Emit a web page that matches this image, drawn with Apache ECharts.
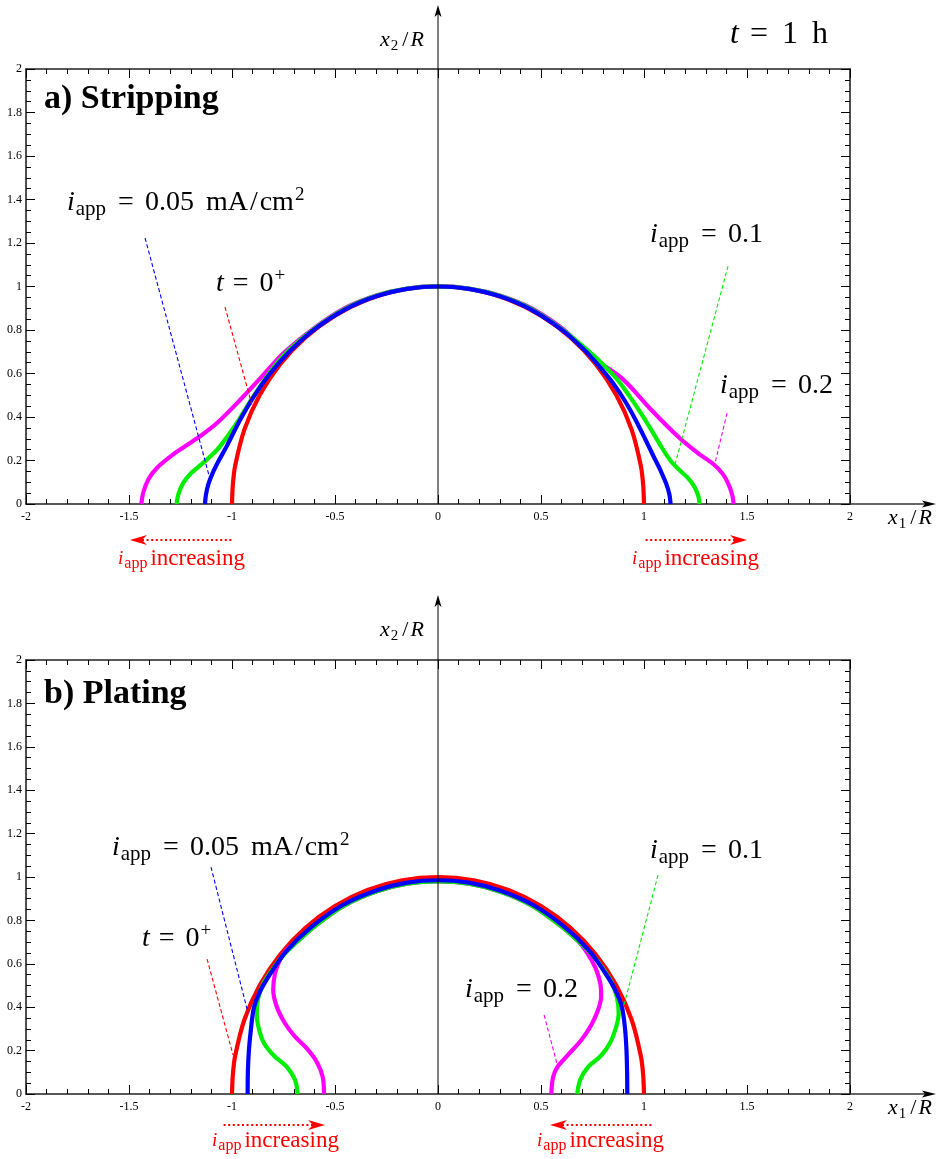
<!DOCTYPE html>
<html>
<head>
<meta charset="utf-8">
<script src="https://cdn.jsdelivr.net/npm/echarts@6/dist/echarts.min.js"></script>
<style>
html,body{margin:0;padding:0;background:#fff;}
#chart{width:944px;height:1159px;}
</style>
</head>
<body>
<div id="chart"></div>
<script>
// ---------- axis ranges / ticks ----------
const xMin = -2, xMax = 2, xInterval = 0.5;
const yMin = 0, yMax = 2, yInterval = 0.2;
const xTickLabels = ['-2','-1.5','-1','-0.5','0','0.5','1','1.5','2'];
const yTickLabels = ['0','0.2','0.4','0.6','0.8','1','1.2','1.4','1.6','1.8','2'];

// ---------- a) Stripping ----------
const stripRed = [[-1,0],[-0.996,0.087],[-0.985,0.174],[-0.94,0.342],[-0.866,0.5],[-0.766,0.643],[-0.643,0.766],[-0.5,0.866],[-0.342,0.94],[-0.174,0.985],[0,1],[0.174,0.985],[0.342,0.94],[0.5,0.866],[0.643,0.766],[0.766,0.643],[0.866,0.5],[0.94,0.342],[0.985,0.174],[0.996,0.087],[1,0]];
const stripBlue = [[-1.131,0],[-1.127,0.04],[-1.115,0.09],[-1.095,0.14],[-1.062,0.203],[-1.026,0.265],[-0.961,0.386],[-0.895,0.493],[-0.815,0.6],[-0.72,0.702],[-0.6,0.803],[-0.45,0.895],[-0.3,0.955],[-0.15,0.989],[0,1],[0.15,0.989],[0.3,0.955],[0.45,0.895],[0.6,0.802],[0.7,0.718],[0.78,0.636],[0.85,0.555],[0.91,0.47],[0.96,0.385],[1.005,0.3],[1.045,0.222],[1.08,0.155],[1.107,0.095],[1.123,0.045],[1.129,0]];
const stripGreen = [[-1.269,0],[-1.26,0.045],[-1.238,0.095],[-1.2,0.14],[-1.145,0.185],[-1.098,0.225],[-1.058,0.265],[-0.98,0.368],[-0.897,0.493],[-0.816,0.606],[-0.73,0.702],[-0.6,0.806],[-0.45,0.898],[-0.3,0.957],[-0.15,0.99],[0,1.001],[0.15,0.99],[0.3,0.957],[0.45,0.898],[0.6,0.805],[0.7,0.728],[0.79,0.652],[0.87,0.573],[0.93,0.495],[0.985,0.418],[1.036,0.34],[1.085,0.262],[1.128,0.2],[1.17,0.158],[1.213,0.12],[1.246,0.077],[1.264,0.035],[1.27,0]];
const stripMagenta = [[-1.44,0],[-1.43,0.055],[-1.405,0.115],[-1.36,0.17],[-1.29,0.225],[-1.22,0.27],[-1.15,0.315],[-1.074,0.371],[-0.961,0.478],[-0.848,0.593],[-0.751,0.693],[-0.6,0.81],[-0.45,0.902],[-0.3,0.959],[-0.15,0.991],[0,1.002],[0.15,0.991],[0.3,0.959],[0.45,0.902],[0.6,0.81],[0.69,0.732],[0.78,0.655],[0.9,0.572],[1.036,0.432],[1.165,0.31],[1.26,0.235],[1.335,0.185],[1.385,0.135],[1.415,0.08],[1.43,0.035],[1.435,0]];
const stripLeadBlue = [[-1.422,1.223],[-1.107,0.115]];
const stripLeadRed = [[-1.034,0.906],[-0.903,0.455]];
const stripLeadGreen = [[1.408,1.094],[1.15,0.179]];
const stripLeadMagenta = [[1.403,0.418],[1.345,0.189]];

// ---------- b) Plating ----------
const plateRed = [[-1,0],[-0.996,0.087],[-0.985,0.174],[-0.94,0.342],[-0.866,0.5],[-0.766,0.643],[-0.643,0.766],[-0.5,0.866],[-0.342,0.94],[-0.174,0.985],[0,1],[0.174,0.985],[0.342,0.94],[0.5,0.866],[0.643,0.766],[0.766,0.643],[0.866,0.5],[0.94,0.342],[0.985,0.174],[0.996,0.087],[1,0]];
const plateBlue = [[-0.924,0],[-0.923,0.1],[-0.918,0.2],[-0.908,0.3],[-0.893,0.4],[-0.86,0.48],[-0.81,0.56],[-0.735,0.66],[-0.614,0.77],[-0.46,0.872],[-0.3,0.938],[-0.15,0.974],[0,0.985],[0.15,0.974],[0.3,0.938],[0.46,0.872],[0.614,0.77],[0.735,0.66],[0.81,0.56],[0.86,0.48],[0.893,0.4],[0.908,0.3],[0.915,0.2],[0.918,0.1],[0.919,0]];
const plateGreen = [[-0.681,0],[-0.694,0.065],[-0.735,0.126],[-0.795,0.175],[-0.845,0.235],[-0.872,0.31],[-0.88,0.37],[-0.873,0.44],[-0.848,0.51],[-0.8,0.58],[-0.745,0.645],[-0.68,0.705],[-0.6,0.772],[-0.46,0.866],[-0.3,0.933],[-0.15,0.969],[0,0.98],[0.15,0.969],[0.3,0.933],[0.46,0.866],[0.6,0.772],[0.68,0.705],[0.745,0.645],[0.8,0.58],[0.845,0.51],[0.87,0.44],[0.877,0.37],[0.865,0.31],[0.835,0.235],[0.79,0.175],[0.73,0.126],[0.69,0.065],[0.676,0]];
const plateMagenta = [[-0.553,0],[-0.56,0.08],[-0.589,0.149],[-0.637,0.21],[-0.694,0.264],[-0.743,0.326],[-0.783,0.403],[-0.8,0.48],[-0.791,0.556],[-0.767,0.618],[-0.735,0.664],[-0.68,0.707],[-0.6,0.772],[-0.46,0.866],[-0.3,0.933],[-0.15,0.969],[0,0.98],[0.15,0.969],[0.3,0.933],[0.46,0.866],[0.6,0.772],[0.68,0.705],[0.728,0.645],[0.765,0.58],[0.788,0.51],[0.792,0.449],[0.777,0.387],[0.744,0.318],[0.696,0.249],[0.631,0.18],[0.58,0.125],[0.558,0.075],[0.55,0]];
const plateLeadBlue = [[-1.102,1.046],[-0.922,0.373]];
const plateLeadRed = [[-1.121,0.622],[-0.995,0.18]];
const plateLeadGreen = [[1.068,1.009],[0.903,0.41]];
const plateLeadMagenta = [[0.515,0.364],[0.578,0.138]];
const centerAxis = [[0,0],[0,2]];

// ---------- build ----------
const SERIF = 'Liberation Serif';
const RED = '#ff0000', BLUE = '#0000ff', GREEN = '#00ee00', MAG = '#ff00ff';

function xAx(grid, pos) {
  const labels = pos === 'bottom';
  return {
    type: 'value', gridIndex: grid, position: pos, min: xMin, max: xMax, interval: xInterval,
    axisLine: {show: true, onZero: false, lineStyle: {color: '#222', width: 1.6}},
    axisTick: {show: true, inside: true, length: 9, lineStyle: {color: '#000', width: 1}},
    minorTick: {show: true, splitNumber: 5, length: 5, lineStyle: {color: '#000', width: 1}},
    splitLine: {show: false}, minorSplitLine: {show: false},
    axisLabel: {show: labels, fontFamily: SERIF, fontSize: 12, color: '#000', margin: 7,
      formatter: v => xTickLabels[Math.round((v - xMin) / xInterval)]}
  };
}
function yAx(grid, pos) {
  const labels = pos === 'left';
  return {
    type: 'value', gridIndex: grid, position: pos, min: yMin, max: yMax, interval: yInterval,
    axisLine: {show: true, onZero: false, lineStyle: {color: '#222', width: 1.6}},
    axisTick: {show: true, inside: true, length: 9, lineStyle: {color: '#000', width: 1}},
    minorTick: {show: true, splitNumber: 4, length: 5, lineStyle: {color: '#000', width: 1}},
    splitLine: {show: false}, minorSplitLine: {show: false},
    axisLabel: {show: labels, fontFamily: SERIF, fontSize: 12, color: '#000', margin: 4,
      formatter: v => yTickLabels[Math.round((v - yMin) / yInterval)]}
  };
}
function curve(data, color, xi, yi, z) {
  return {type: 'line', data: data, xAxisIndex: xi, yAxisIndex: yi, smooth: 0.3,
    showSymbol: false, symbol: 'none', lineStyle: {color: color, width: 4.2}, z: z, silent: true};
}
function leader(data, color, xi, yi) {
  return {type: 'line', data: data, xAxisIndex: xi, yAxisIndex: yi, showSymbol: false, symbol: 'none',
    lineStyle: {color: color, width: 1.1, type: [4, 2.5]}, z: 6, silent: true};
}

const series = [
  curve(stripRed, RED, 0, 0, 2), curve(stripMagenta, MAG, 0, 0, 3), curve(stripGreen, GREEN, 0, 0, 4), curve(stripBlue, BLUE, 0, 0, 5),
  leader(stripLeadBlue, BLUE, 0, 0), leader(stripLeadRed, RED, 0, 0), leader(stripLeadGreen, GREEN, 0, 0), leader(stripLeadMagenta, MAG, 0, 0),
  {type: 'line', data: centerAxis, xAxisIndex: 0, yAxisIndex: 0, showSymbol: false, symbol: 'none', lineStyle: {color: '#000', width: 1}, z: 7, silent: true},
  curve(plateRed, RED, 2, 2, 2), curve(plateMagenta, MAG, 2, 2, 3), curve(plateGreen, GREEN, 2, 2, 4), curve(plateBlue, BLUE, 2, 2, 5),
  leader(plateLeadBlue, BLUE, 2, 2), leader(plateLeadRed, RED, 2, 2), leader(plateLeadGreen, GREEN, 2, 2), leader(plateLeadMagenta, MAG, 2, 2),
  {type: 'line', data: centerAxis, xAxisIndex: 2, yAxisIndex: 2, showSymbol: false, symbol: 'none', lineStyle: {color: '#000', width: 1}, z: 7, silent: true}
];

// ---------- annotation text ----------
function tok(fs, lh, extra, color) {
  const c = color || '#000';
  return Object.assign({fontFamily: SERIF, fontSize: fs, lineHeight: lh, color: c, fill: c}, extra || {});
}
const mathRich = {
  m: tok(28, 34),
  s: tok(28, 34, {padding: [0, 0, 0, 12]}),
  sl: tok(28, 34, {padding: [0, 2, 0, 2]}),
  i: tok(28, 34, {fontStyle: 'italic'}),
  sub: tok(21, 21, {verticalAlign: 'bottom', padding: [0, 3, 0, 1]}),
  sup: tok(19, 18, {verticalAlign: 'top', padding: [0, 0, 0, 1]}),
  eq: tok(28, 34, {padding: [0, 11, 0, 9]})
};
function mtext(left, baseline, str) {
  return {type: 'text', left: left, top: baseline - 26.5, z: 20,
    style: {text: str, rich: mathRich, fontFamily: SERIF, fontSize: 28, fill: '#000'}};
}
const timeRich = {
  m: tok(32, 38),
  i: tok(32, 38, {fontStyle: 'italic'}),
  eq: tok(32, 38, {padding: [0, 14, 0, 11]}),
  h: tok(32, 38, {padding: [0, 0, 0, 14]})
};
const axRich = {
  i: tok(22, 26, {fontStyle: 'italic'}),
  m: tok(22, 26, {padding: [0, 2, 0, 2]}),
  sub: tok(15, 14, {verticalAlign: 'bottom', padding: [0, 2, 0, 1]})
};
function axText(left, baseline, n) {
  return {type: 'text', left: left, top: baseline - 20.5, z: 20,
    style: {text: '{i|x}{sub|' + n + '}{m|/}{i|R}', rich: axRich, fontFamily: SERIF, fontSize: 22}};
}
const incRich = {
  i: tok(19, 26, {fontStyle: 'italic'}, RED),
  sub: tok(16, 16, {verticalAlign: 'bottom', padding: [0, 3, 0, 1]}, RED),
  m: tok(23, 26, {}, RED)
};
function incText(left, baseline) {
  return {type: 'text', left: left, top: baseline - 20.8, z: 20,
    style: {text: '{i|i}{sub|app}{m|increasing}', rich: incRich, fontFamily: SERIF, fontSize: 23, fill: RED}};
}
function boldText(left, baseline, str) {
  return {type: 'text', left: left, top: baseline - 30, z: 20,
    style: {text: str, fontFamily: SERIF, fontWeight: 'bold', fontSize: 34, fill: '#000'}};
}
function hline(x1, x2, y, color, w, dash) {
  return {type: 'line', z: 15, shape: {x1: x1, y1: y, x2: x2, y2: y},
    style: {stroke: color, lineWidth: w, lineDash: dash || null}};
}
function vline(x, y1, y2) {
  return {type: 'line', z: 15, shape: {x1: x, y1: y1, x2: x, y2: y2}, style: {stroke: '#000', lineWidth: 1}};
}
function poly(pts, color) {
  return {type: 'polygon', z: 16, shape: {points: pts}, style: {fill: color}};
}
function redArrow(tipX, tailX, y) {
  const d = tailX > tipX ? 1 : -1;
  return [
    hline(tipX + d * 12, tailX, y, RED, 1.8, [2, 2.6]),
    poly([[tipX, y], [tipX + d * 17, y - 5], [tipX + d * 12, y], [tipX + d * 17, y + 5]], RED)
  ];
}

const APP = '{i|i}{sub|app}';
const UNIT = '{eq|=}{m|0.05}{s|mA}{sl|/}{m|cm}{sup|2}';
const graphic = [
  // top panel
  {type: 'text', left: 730, top: 48 - 29.9, z: 20,
    style: {text: '{i|t}{eq|=}{m|1}{h|h}', rich: timeRich, fontFamily: SERIF, fontSize: 32, fill: '#000'}},
  boldText(44, 112, 'a) Stripping'),
  mtext(67, 212, APP + UNIT),
  mtext(216, 293, '{i|t}{eq|=}{m|0}{sup|+}'),
  mtext(650, 247, APP + '{eq|=}{m|0.1}'),
  mtext(720, 398, APP + '{eq|=}{m|0.2}'),
  axText(380, 50, '2'),
  axText(888, 528, '1'),
  vline(438, 69, 10),
  poly([[438, 5], [441.5, 17], [438, 14], [434.5, 17]], '#000'),
  hline(850, 928, 504, '#333', 1.4),
  poly([[936, 504], [922, 500.5], [925, 504], [922, 507.5]], '#000'),
  ...redArrow(130, 233, 540),
  ...redArrow(747, 643, 540),
  incText(118, 568),
  incText(632, 568),
  // bottom panel
  boldText(44, 707, 'b) Plating'),
  mtext(112, 857, APP + UNIT),
  mtext(142, 948, '{i|t}{eq|=}{m|0}{sup|+}'),
  mtext(650, 863, APP + '{eq|=}{m|0.1}'),
  mtext(465, 1002, APP + '{eq|=}{m|0.2}'),
  axText(380, 640, '2'),
  axText(888, 1118, '1'),
  vline(438, 660, 600),
  poly([[438, 595], [441.5, 607], [438, 604], [434.5, 607]], '#000'),
  hline(850, 928, 1094, '#333', 1.4),
  poly([[936, 1094], [922, 1090.5], [925, 1094], [922, 1097.5]], '#000'),
  ...redArrow(325, 223, 1125),
  ...redArrow(550, 653, 1125),
  incText(212, 1150),
  incText(537, 1150)
];

const option = {
  animation: false,
  backgroundColor: '#fff',
  grid: [
    {left: 26, top: 69, width: 824, height: 435},
    {left: 26, top: 660, width: 824, height: 434}
  ],
  xAxis: [xAx(0, 'bottom'), xAx(0, 'top'), xAx(1, 'bottom'), xAx(1, 'top')],
  yAxis: [yAx(0, 'left'), yAx(0, 'right'), yAx(1, 'left'), yAx(1, 'right')],
  series: series,
  graphic: graphic
};

const chart = echarts.init(document.getElementById('chart'), null, {renderer: 'canvas'});
chart.setOption(option);
</script>
</body>
</html>
